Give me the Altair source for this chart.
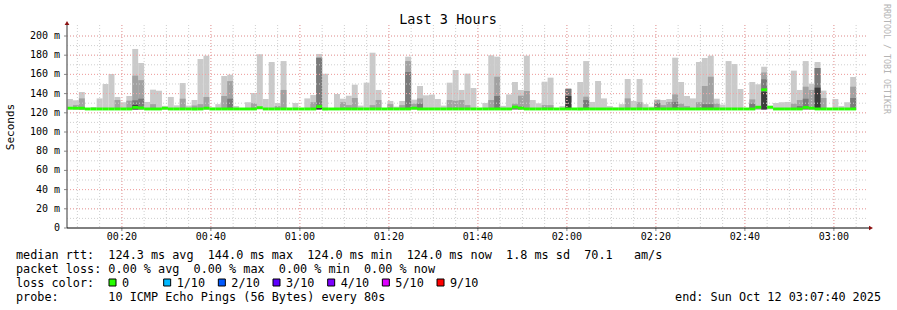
import altair as alt
import pandas as pd

# ---------------- data ----------------
START_MIN = 7 + 40 / 60.0      # 00:07:40
STEP_MIN = 80 / 60.0           # one probe round every 80 s
END_MIN = START_MIN + 180.0    # 03:07:40

# top of the lightest smoke band (max rtt, ms) per step
lt = [134.4, 133.0, 141.7, None, 126.0, 135.0, 150.0, 160.4, 136.5, 131.0,
      137.5, 186.5, 171.9, 131.3, 144.1, 143.0, 127.2, 136.5, 127.8, 151.0,
      127.5, 133.3, 176.0, 179.5, 125.5, 129.0, 158.3, 159.7, 127.0, None,
      131.0, 140.6, 181.0, 134.4, 172.9, 130.2, 173.9, None, 130.2, None,
      135.0, 138.5, 181.3, 160.8, None, 139.6, 134.7, 137.8, 149.3, 127.5,
      151.4, 182.6, 143.8, None, 132.3, 126.4, 132.3, 178.5, 133.7, 147.9,
      138.2, 138.9, 134.4, 127.5, 151.4, 164.6, 143.8, 160.8, 145.8, None,
      130.2, 179.9, 178.5, 127.2, 139.2, 152.1, 143.8, 179.5, 133.3, 129.9,
      152.4, 156.6, None, 127.0, 145.8, None, 152.1, 173.9, 131.3, 153.1,
      135.0, 127.0, 125.5, 129.0, 155.2, 132.3, 155.2, 129.0, 126.4, 134.0,
      133.3, 134.4, 177.4, 152.1, 137.5, 135.0, 172.9, 177.1, 179.5, 134.7,
      128.6, 173.9, 170.8, 144.8, None, 152.1, 149.7, 168.0, 127.5, 130.2,
      131.0, 131.3, 163.9, 143.8, 173.9, 150.4, 172.9, 143.1, None, 134.4,
      127.0, 131.0, 157.3]

# top of the medium smoke band
md = [None, 128.0, 135.0, None, None, None, None, None, 133.3, None,
      132.6, 158.7, 154.0, None, 129.0, None, 126.0, None, None, 134.7,
      None, 127.5, 129.0, 136.5, None, None, 137.5, 153.0, None, None,
      None, 130.0, None, None, None, 127.0, 143.8, None, None, None,
      None, 131.0, 177.4, None, None, None, 131.0, 128.0, 135.4, None,
      None, 128.0, 133.3, None, 129.0, None, 128.0, 173.9, 129.5, 135.0,
      None, None, None, None, 133.3, 132.6, 133.3, 128.0, None, None,
      None, 133.3, 157.6, None, None, 129.5, 137.8, 142.7, None, None,
      128.0, 128.0, None, None, 144.8, None, None, 136.8, None, None,
      None, None, None, None, 135.0, None, 131.0, None, None, 133.3,
      128.0, 131.3, 139.2, 129.5, 127.0, None, 131.0, 147.9, 157.6, 129.5,
      None, None, None, None, None, 134.0, 127.0, 162.0, None, None,
      None, None, 129.5, 133.3, 147.2, 143.8, 166.7, 135.4, None, None,
      None, None, 147.2]

# top of the dark smoke band
dk = [None, None, 126.0, None, None, None, None, None, None, None,
      None, 133.0, 134.7, None, None, None, None, None, None, None,
      None, None, None, None, None, None, None, 134.7, None, None,
      None, None, None, None, None, None, None, None, None, None,
      None, None, 177.4, None, None, None, None, None, None, None,
      None, None, None, None, None, None, None, 162.5, None, 129.5,
      None, None, None, None, None, None, None, None, None, None,
      None, None, 137.5, None, None, 127.0, 126.5, None, None, None,
      None, None, None, None, 144.8, None, None, 133.3, None, None,
      None, None, None, None, None, None, None, None, None, 130.2,
      None, None, 131.3, None, None, None, None, 129.0, 129.0, None,
      None, None, None, None, None, 129.5, None, 154.9, None, None,
      None, None, None, 127.0, 134.7, None, 166.7, None, None, None,
      None, None, 135.4]

# top of the darkest smoke band
bk = [None, None, None, None, None, None, None, None, None, None,
      None, 128.0, None, None, None, None, None, None, None, None,
      None, None, None, None, None, None, None, None, None, None,
      None, None, None, None, None, None, None, None, None, None,
      None, None, 126.5, None, None, None, None, None, None, None,
      None, None, None, None, None, None, None, None, None, None,
      None, None, None, None, None, None, None, None, None, None,
      None, None, None, None, None, None, None, None, None, None,
      None, None, None, None, 137.5, None, None, None, None, None,
      None, None, None, None, None, None, None, None, None, None,
      None, None, None, None, None, None, None, None, None, None,
      None, None, None, None, None, None, None, 142.0, None, None,
      None, None, None, None, None, None, 146.2, None, None, None,
      None, None, None]

# median rtt per step (ms)
med = [124.8, 124.8, 124.8, 124.0, 124.0, 124.0, 124.0, 124.0, 124.0, 124.0,
       124.0, 125.6, 125.0, 124.0, 124.0, 124.0, 124.8, 124.0, 124.0, 124.0,
       124.0, 124.0, 124.0, 124.8, 124.0, 124.0, 124.0, 124.0, 124.0, 124.0,
       124.0, 124.0, 125.3, 124.0, 124.0, 124.0, 124.0, 124.0, 124.0, 124.0,
       124.0, 124.0, 126.5, 124.0, 124.0, 124.0, 124.0, 124.0, 124.0, 124.0,
       124.0, 124.0, 124.0, 124.0, 124.0, 124.0, 124.0, 124.0, 124.8, 124.0,
       124.0, 124.0, 124.0, 124.0, 124.0, 124.0, 124.0, 124.0, 124.0, 124.0,
       124.0, 124.0, 124.0, 124.0, 124.0, 126.0, 124.8, 124.0, 124.0, 124.0,
       124.0, 124.0, 124.0, 124.0, 124.0, 124.0, 124.0, 124.0, 124.0, 124.0,
       124.0, 124.0, 124.0, 124.0, 124.0, 124.0, 124.0, 124.0, 124.0, 124.0,
       124.0, 124.0, 124.0, 124.0, 124.0, 124.0, 124.0, 124.0, 124.0, 124.0,
       124.0, 124.0, 124.0, 124.0, 124.0, 124.0, 125.8, 144.0, 125.8, 124.0,
       124.0, 124.0, 124.0, 124.0, 125.6, 124.8, 124.0, 124.0, 124.0, 124.0,
       124.0, 124.0, 124.0]

SMOKE_FLOOR = 123.5

x_major = [20, 40, 60, 80, 100, 120, 140, 160, 180]
x_labels = ["00:20", "00:40", "01:00", "01:20", "01:40", "02:00", "02:20", "02:40", "03:00"]
x_minor = list(range(10, 186, 5))
y_ticks = [0, 20, 40, 60, 80, 100, 120, 140, 160, 180, 200]
y_labels = ["0", "20 m", "40 m", "60 m", "80 m", "100 m", "120 m", "140 m", "160 m", "180 m", "200 m"]
y_major = y_ticks[1:]
y_minor = list(range(10, 201, 10))

title_text = "Last 3 Hours"
ytitle_text = "Seconds"
side_text = "RRDTOOL / TOBI OETIKER"
legend_rows = [
    "median rtt:  124.3 ms avg  144.0 ms max  124.0 ms min  124.0 ms now  1.8 ms sd  70.1   am/s",
    "packet loss: 0.00 % avg  0.00 % max  0.00 % min  0.00 % now",
    "loss color:",
    "probe:       10 ICMP Echo Pings (56 Bytes) every 80s",
]
loss_labels = ["0", "1/10", "2/10", "3/10", "4/10", "5/10", "9/10"]
loss_colors = ["#26ff00", "#00b8ff", "#0059ff", "#5e00ff", "#7e00ff", "#dd00ff", "#ff0000"]
end_text = "end: Sun Oct 12 03:07:40 2025"

# ---------------- layout ----------------
W, H = 801, 203
LEFT, TOP = 67, 25
MONO = "DejaVu Sans Mono"

rows = []
for k in range(len(med)):
    t0 = START_MIN + k * STEP_MIN
    rows.append(dict(t0=t0, t1=t0 + STEP_MIN, floor=SMOKE_FLOOR,
                     lt=lt[k], md=md[k], dk=dk[k], bk=bk[k],
                     mlo=med[k] - 1.5, mhi=med[k] + 1.5))
df = pd.DataFrame(rows)

xscale = alt.Scale(domain=[START_MIN, END_MIN], nice=False, zero=False)
yscale = alt.Scale(domain=[0, 211.46], nice=False, zero=True)

base = alt.Chart(df)


def band(col, color):
    return base.transform_filter(f"isValid(datum.{col})").mark_rect(
        color=color, strokeWidth=0).encode(
        x=alt.X("t0:Q", scale=xscale, axis=None),
        x2="t1:Q",
        y=alt.Y("floor:Q", scale=yscale, axis=None),
        y2=alt.Y2(f"{col}:Q"),
    )


light = band("lt", "#cacaca")
medium = band("md", "#a2a2a2")
dark = band("dk", "#7a7a7a")
darkest = band("bk", "#3c3c3c")

median = base.mark_rect(color="#26ff00", strokeWidth=0).encode(
    x=alt.X("t0:Q", scale=xscale, axis=None), x2="t1:Q",
    y=alt.Y("mlo:Q", scale=yscale, axis=None), y2="mhi:Q")

grid_dash = [1, 2]
vminor = alt.Chart(pd.DataFrame({"v": x_minor})).mark_rule(
    color="#cfcfcf", strokeDash=grid_dash, strokeWidth=1).encode(
    x=alt.X("v:Q", scale=xscale, axis=None), y=alt.value(0), y2=alt.value(H))
hminor = alt.Chart(pd.DataFrame({"v": y_minor})).mark_rule(
    color="#cfcfcf", strokeDash=grid_dash, strokeWidth=1).encode(
    y=alt.Y("v:Q", scale=yscale, axis=None), x=alt.value(0), x2=alt.value(W))
vmajor = alt.Chart(pd.DataFrame({"v": x_major})).mark_rule(
    color="#f4a0a0", strokeDash=grid_dash, strokeWidth=1).encode(
    x=alt.X("v:Q", scale=xscale, axis=None), y=alt.value(0), y2=alt.value(H))
hmajor = alt.Chart(pd.DataFrame({"v": y_major})).mark_rule(
    color="#f4a0a0", strokeDash=grid_dash, strokeWidth=1).encode(
    y=alt.Y("v:Q", scale=yscale, axis=None), x=alt.value(0), x2=alt.value(W))

# small ticks outside the plot area
yticks = alt.Chart(pd.DataFrame({"v": y_ticks})).mark_rule(color="#888", strokeWidth=1).encode(
    y=alt.Y("v:Q", scale=yscale, axis=None), x=alt.value(-3), x2=alt.value(0))
xticks = alt.Chart(pd.DataFrame({"v": x_major})).mark_rule(color="#888", strokeWidth=1).encode(
    x=alt.X("v:Q", scale=xscale, axis=None), y=alt.value(H), y2=alt.value(H + 3))

# tick labels
ylab = alt.Chart(pd.DataFrame({"v": y_ticks, "s": [s.replace(" ", "\u00a0") for s in y_labels]})).mark_text(
    font=MONO, fontSize=10, align="right", baseline="middle", color="#000").encode(
    y=alt.Y("v:Q", scale=yscale, axis=None), x=alt.value(-7), text="s:N")
xlab = alt.Chart(pd.DataFrame({"v": x_major, "s": x_labels})).mark_text(
    font=MONO, fontSize=10, align="center", baseline="middle", color="#000").encode(
    x=alt.X("v:Q", scale=xscale, axis=None), y=alt.value(237 - TOP), text="s:N")

one = pd.DataFrame({"a": [0]})
yline = alt.Chart(one).mark_rule(color="#777", strokeWidth=1.5).encode(
    x=alt.value(0), y=alt.value(H), y2=alt.value(-1))
xline = alt.Chart(one).mark_rule(color="#000", strokeWidth=1).encode(
    x=alt.value(0), x2=alt.value(803), y=alt.value(H))
yarrow = alt.Chart(one).mark_point(shape="triangle-up", filled=True, size=22,
                                   color="#8b1010", opacity=1).encode(
    x=alt.value(0), y=alt.value(-2))
xarrow = alt.Chart(one).mark_point(shape="triangle-right", filled=True, size=22,
                                   color="#8b1010", opacity=1).encode(
    x=alt.value(804), y=alt.value(H))


def txt(s, x, y, size, align="left", angle=0, color="#000"):
    return alt.Chart(pd.DataFrame({"s": [s.replace(" ", "\u00a0")]})).mark_text(
        font=MONO, fontSize=size, align=align, baseline="middle", angle=angle,
        color=color).encode(x=alt.value(x), y=alt.value(y), text="s:N")


texts = [
    txt(title_text, 448 - LEFT, 20 - TOP, 13.5, align="center"),
    txt(ytitle_text, 11 - LEFT, 127 - TOP, 11, align="center", angle=270),
    txt(side_text, 886 - LEFT, 59 - TOP, 8.3, align="center", angle=90, color="#b4b4b4"),
    txt(end_text, 881 - LEFT, 297 - TOP, 11.8, align="right"),
]
for i, r in enumerate(legend_rows):
    texts.append(txt(r, 16 - LEFT, 255 + 14 * i - TOP, 11.8))

boxes = []
for i, (lab, col) in enumerate(zip(loss_labels, loss_colors)):
    bx = 109 + 54.67 * i
    boxes.append(alt.Chart(one).mark_rect(color=col, stroke="#000", strokeWidth=1).encode(
        x=alt.value(bx - LEFT), x2=alt.value(bx - LEFT + 7),
        y=alt.value(279 - TOP), y2=alt.value(286 - TOP)))
    texts.append(txt(lab, bx + 13 - LEFT, 283 - TOP, 11.8))

chart = alt.layer(
    light, medium, dark, darkest,
    vminor, hminor, vmajor, hmajor,
    median,
    yticks, xticks, yline, xline, yarrow, xarrow,
    ylab, xlab,
    *boxes, *texts,
).properties(
    width=W, height=H,
    padding={"left": LEFT, "top": TOP, "right": 897 - LEFT - W, "bottom": 310 - TOP - H},
    autosize=alt.AutoSizeParams(type="none"),
    background="#ffffff",
).configure_view(stroke=None)

chart.save("out.html", embed_options={"renderer": "svg", "actions": False})
